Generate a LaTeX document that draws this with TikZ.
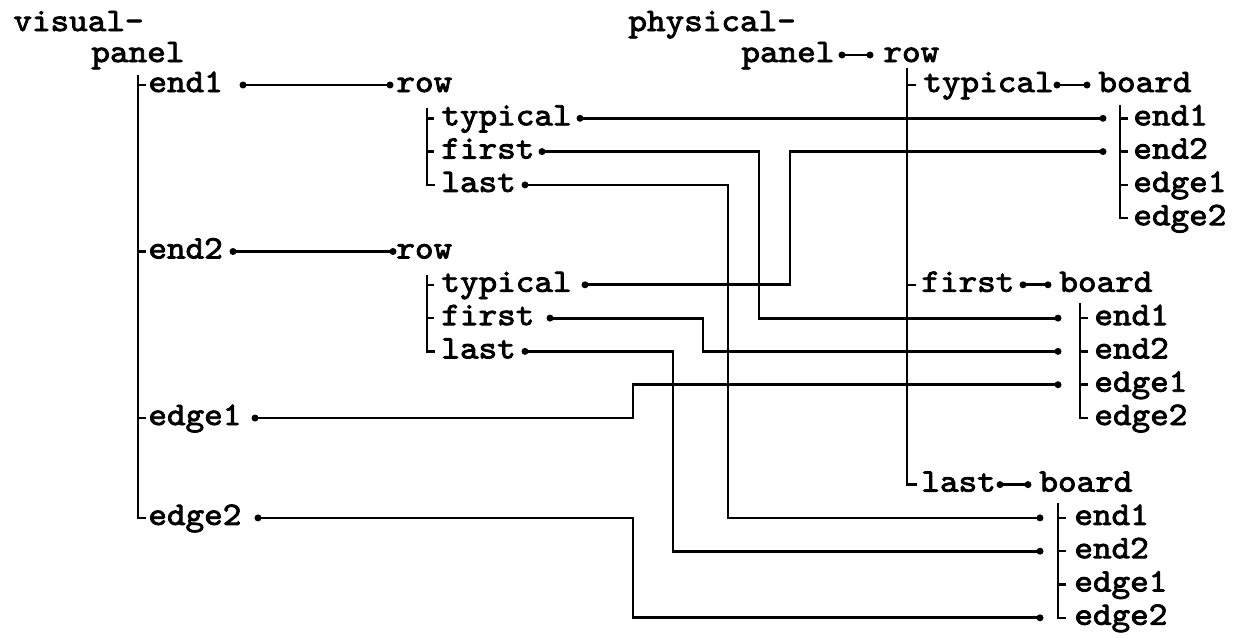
\documentclass[tikz,border=0pt]{standalone}
\usepackage{fontspec}
\newfontfamily\tw{lmmono10-regular.otf}[FakeBold=2.5,FakeStretch=1.08]
\begin{document}
\begin{tikzpicture}[x=1pt,y=-1pt,line width=2.8pt,
  lbl/.style={anchor=base west,inner sep=0pt,font=\tw\fontsize{32.8}{33}\selectfont},
  tick/.style={line width=2.5pt}]
\useasboundingbox (0,0) rectangle (1247,637);
% ---------------- left tree: visual-panel
\node[lbl] (vis) at (12,31) {visual-};
\node[lbl] (vpanel) at (90,62) {panel};
\node[lbl] (vEnd1) at (147,92) {end1};
\node[lbl] (vEnd2) at (147,258.5) {end2};
\node[lbl] (vEdge1) at (147,425) {edge1};
\node[lbl] (vEdge2) at (147,524.9) {edge2};
\coordinate (vEnd1o) at (243,85);
\coordinate (vEnd2o) at (233,251.5);
\coordinate (vEdge1o) at (255,418);
\coordinate (vEdge2o) at (258,517.9);
\coordinate (vTop) at (138,75);
\draw[tick] (vTop) -- (vTop |- vEdge2o) -- +(8,0);
\foreach \c in {vEnd1o,vEnd2o,vEdge1o}{\draw[tick] (vTop |- \c) -- +(8,0);}
% ---------------- middle tree 1
\node[lbl] (rowA) at (395,92) {row};
\node[lbl] (aTyp) at (440,125.3) {typical};
\node[lbl] (aFir) at (440,158.6) {first};
\node[lbl] (aLas) at (440,191.9) {last};
\coordinate (rowAi) at (390,85);
\coordinate (aTypo) at (580,118.3);
\coordinate (aFiro) at (542,151.6);
\coordinate (aLaso) at (525,184.9);
\coordinate (aTop) at (427,108);
\draw[tick] (aTop) -- (aTop |- aLaso) -- +(8,0);
\foreach \c in {aTypo,aFiro}{\draw[tick] (aTop |- \c) -- +(7,0);}
% ---------------- middle tree 2
\node[lbl] (rowB) at (395,258.5) {row};
\node[lbl] (bTyp) at (440,291.8) {typical};
\node[lbl] (bFir) at (440,325.1) {first};
\node[lbl] (bLas) at (440,358.4) {last};
\coordinate (rowBi) at (393,251.5);
\coordinate (bTypo) at (585,284.8);
\coordinate (bFiro) at (550,318.1);
\coordinate (bLaso) at (525,351.4);
\coordinate (bTop) at (427,275);
\draw[tick] (bTop) -- (bTop |- bLaso) -- +(8,0);
\foreach \c in {bTypo,bFiro}{\draw[tick] (bTop |- \c) -- +(7,0);}
% ---------------- right tree: physical-panel
\node[lbl] (phys) at (627,31) {physical-};
\node[lbl] (ppanel) at (740,62) {panel};
\node[lbl] (rowP) at (882,62) {row};
\coordinate (ppo) at (842,55);
\coordinate (rowPi) at (870,55);
\node[lbl] (pTyp) at (922,92) {typical};
\node[lbl] (pFir) at (920,291.8) {first};
\node[lbl] (pLas) at (920,491.6) {last};
\coordinate (pTypo) at (1057,85);
\coordinate (pFiro) at (1023,284.8);
\coordinate (pLaso) at (1000,484.6);
\coordinate (pTop) at (907,68);
\draw[tick] (pTop) -- (pTop |- pLaso) -- +(10,0);
\foreach \c in {pTypo,pFiro}{\draw[tick] (pTop |- \c) -- +(9,0);}
% boards
\node[lbl] (board1) at (1097,92) {board};
\node[lbl] (board2) at (1058,291.8) {board};
\node[lbl] (board3) at (1038,491.6) {board};
\coordinate (board1i) at (1087,85);
\coordinate (board2i) at (1048,284.8);
\coordinate (board3i) at (1028,484.6);
% board 1 parts
\node[lbl] (b1e1) at (1132,125.3) {end1};
\node[lbl] (b1e2) at (1132,158.6) {end2};
\node[lbl] (b1g1) at (1132,191.9) {edge1};
\node[lbl] (b1g2) at (1132,225.2) {edge2};
\coordinate (c1e1) at (1103,118.3);
\coordinate (c1e2) at (1103,151.6);
\coordinate (c1g1) at (1120,184.9);
\coordinate (c1g2) at (1120,218.2);
\coordinate (c1Top) at (1120,105);
\draw[tick] (c1Top) -- (c1g2) -- +(8,0);
\foreach \c in {c1e1,c1e2,c1g1}{\draw[tick] (c1Top |- \c) -- +(8,0);}
% board 2 parts
\node[lbl] (b2e1) at (1093,325.1) {end1};
\node[lbl] (b2e2) at (1093,358.4) {end2};
\node[lbl] (b2g1) at (1093,391.7) {edge1};
\node[lbl] (b2g2) at (1093,425) {edge2};
\coordinate (c2e1) at (1058,318.1);
\coordinate (c2e2) at (1058,351.4);
\coordinate (c2g1) at (1058,384.7);
\coordinate (c2g2) at (1080,418);
\coordinate (c2Top) at (1080,303);
\draw[tick] (c2Top) -- (c2g2) -- +(8,0);
\foreach \c in {c2e1,c2e2,c2g1}{\draw[tick] (c2Top |- \c) -- +(8,0);}
% board 3 parts
\node[lbl] (b3e1) at (1073,524.9) {end1};
\node[lbl] (b3e2) at (1073,558.2) {end2};
\node[lbl] (b3g1) at (1073,591.5) {edge1};
\node[lbl] (b3g2) at (1073,624.8) {edge2};
\coordinate (c3e1) at (1040,517.9);
\coordinate (c3e2) at (1040,551.2);
\coordinate (c3g1) at (1058,584.5);
\coordinate (c3g2) at (1040,617.8);
\coordinate (c3Top) at (1058,503);
\draw[tick] (c3Top) -- (c3Top |- c3g2) -- +(8,0);
\foreach \c in {c3e1,c3e2,c3g1}{\draw[tick] (c3Top |- \c) -- +(8,0);}
% ---------------- short links
\draw (vEnd1o) -- (rowAi);
\draw (vEnd2o) -- (rowBi);
\draw (ppo) -- (rowPi);
\draw (pTypo) -- (board1i);
\draw (pFiro) -- (board2i);
\draw (pLaso) -- (board3i);
% ---------------- long connectors
\coordinate (k2) at (759,318.1);
\coordinate (k3) at (728,517.9);
\coordinate (k4) at (790,151.6);
\coordinate (k5) at (703,351.4);
\coordinate (k6) at (673,551.2);
\coordinate (k7) at (633,384.7);
\coordinate (k8) at (633,617.8);
\draw (aTypo) -- (c1e1);
\draw (aFiro) -| (k2) -- (c2e1);
\draw (aLaso) -| (k3) -- (c3e1);
\draw (bTypo) -| (k4) -- (c1e2);
\draw (bFiro) -| (k5) -- (c2e2);
\draw (bLaso) -| (k6) -- (c3e2);
\draw (vEdge1o) -| (k7) -- (c2g1);
\draw (vEdge2o) -| (k8) -- (c3g2);
% ---------------- dots
\foreach \c in {vEnd1o,rowAi,vEnd2o,rowBi,ppo,rowPi,pTypo,board1i,pFiro,board2i,pLaso,board3i,
  aTypo,aFiro,aLaso,bTypo,bFiro,bLaso,vEdge1o,vEdge2o,c1e1,c1e2,c2e1,c2e2,c2g1,c3e1,c3e2,c3g2}
  {\fill (\c) circle (3.5);}
\end{tikzpicture}
\end{document}
